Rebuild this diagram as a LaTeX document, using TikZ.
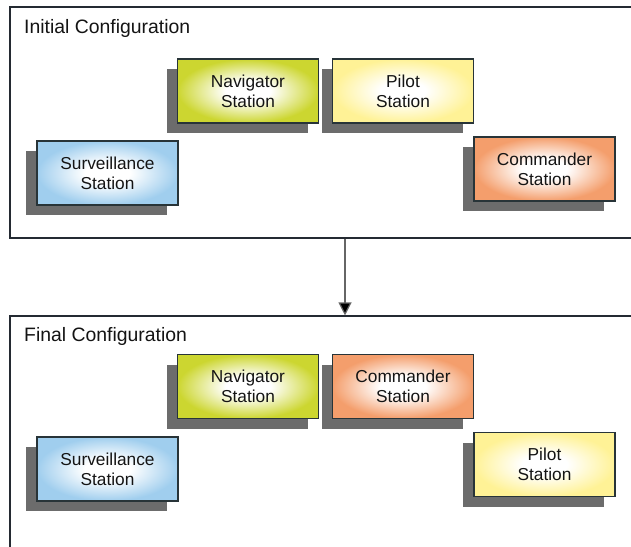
\documentclass[tikz,border=0pt]{standalone}
\usepackage{fontspec}
\setmainfont{Liberation Sans}
\usetikzlibrary{arrows.meta,shadows}

\definecolor{navc}{RGB}{204,214,48}
\definecolor{pilc}{RGB}{255,242,150}
\definecolor{comc}{RGB}{244,158,108}
\definecolor{survc}{RGB}{160,206,238}
\definecolor{boxline}{RGB}{40,52,56}
\definecolor{frameline}{RGB}{36,42,50}
\definecolor{shadowgray}{RGB}{108,108,108}

% a white glow in the middle that fades into the station colour
\pgfdeclareradialshading{navglow}{\pgfpoint{0bp}{0bp}}{color(0bp)=(white); color(8bp)=(white); color(25bp)=(navc); color(50bp)=(navc)}
\pgfdeclareradialshading{pilglow}{\pgfpoint{0bp}{0bp}}{color(0bp)=(white); color(8bp)=(white); color(25bp)=(pilc); color(50bp)=(pilc)}
\pgfdeclareradialshading{comglow}{\pgfpoint{0bp}{0bp}}{color(0bp)=(white); color(8bp)=(white); color(25bp)=(comc); color(50bp)=(comc)}
\pgfdeclareradialshading{survglow}{\pgfpoint{0bp}{0bp}}{color(0bp)=(white); color(8bp)=(white); color(25bp)=(survc); color(50bp)=(survc)}

\begin{document}
\begin{tikzpicture}[x=1pt,y=-1pt,
  station/.style={draw=boxline, line width=1.1pt,
    minimum width=141pt, minimum height=64pt, inner sep=0pt,
    align=center, font=\fontsize{17.3}{20}\selectfont, text=black!92,
    drop shadow={shadow xshift=-11pt, shadow yshift=-10pt,
      fill=shadowgray, opacity=1},
    shading=#1},
  frame/.style={draw=frameline, line width=1.1pt, fill=none,
    inner sep=0pt, minimum width=670pt},
  title/.style={anchor=base west, inner sep=0pt,
    font=\fontsize{19.4}{23}\selectfont, text=black!92},
  flow/.style={draw=black!60, line width=1.2pt,
    -{Triangle[length=13pt,width=13pt,fill=black]}}]

\fill[white] (0,0) rectangle (631,546);
\useasboundingbox (0,0) rectangle (631,546);
\clip (0,0) rectangle (631,546);

% the two configuration panels
\node[frame, minimum height=231pt] (init) at (345,122.5) {};
\node[frame, minimum height=300pt] (final) at (345,466) {};

\node[title] (inittitle) at (24,33) {Initial Configuration};
\node[title] (finaltitle) at (24,341) {Final Configuration};

% stations before the change
\node[station=navglow]  (nav1)  at (248,91)    {Navigator\\Station};
\node[station=pilglow]  (pil1)  at (403,91)    {Pilot\\Station};
\node[station=survglow] (surv1) at (107.5,173) {Surveillance\\Station};
\node[station=comglow]  (com1)  at (544.5,169) {Commander\\Station};

% stations after the change
\node[station=navglow]  (nav2)  at (248,386.5)   {Navigator\\Station};
\node[station=comglow]  (com2)  at (403,386.5)   {Commander\\Station};
\node[station=survglow] (surv2) at (107.5,469)   {Surveillance\\Station};
\node[station=pilglow]  (pil2)  at (544.5,464.5) {Pilot\\Station};

\draw[flow] (init.south) -- (final.north);
\end{tikzpicture}
\end{document}
